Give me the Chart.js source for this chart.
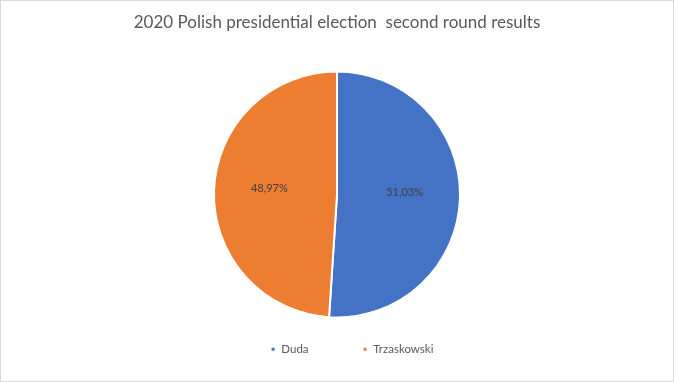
<!DOCTYPE html>
<html><head><meta charset="utf-8">
<script src="https://cdn.jsdelivr.net/npm/chart.js@4/dist/chart.umd.min.js"></script>
<style>html,body{margin:0;padding:0;background:#fff}#wrap{width:674px;height:382px;position:relative}</style>
</head><body><div id="wrap"><canvas id="c" width="674" height="382"></canvas></div>
<script>
const title = "2020 Polish presidential election  second round results";
const categories = ["Duda", "Trzaskowski"];
const values = [51.03, 48.97];
const colors = ["#4472C4", "#ED7D31"];

const fmt = v => v.toFixed(2).replace(".", ",") + "%";

const borderPlugin = {
  id: "frame",
  afterLayout(chart) {
    const lg = chart.legend;
    if (lg) { lg.top -= 17; lg.bottom -= 17; lg.left += 15; lg.right += 15; }
  },
  afterDraw(chart) {
    const ctx = chart.ctx;
    ctx.save();
    ctx.strokeStyle = "#d9d9d9";
    ctx.lineWidth = 1;
    ctx.strokeRect(0.5, 0.5, chart.width - 1, chart.height - 1);
    ctx.restore();
  }
};
const labelPlugin = {
  id: "slabels",
  afterDatasetsDraw(chart) {
    const ctx = chart.ctx;
    const meta = chart.getDatasetMeta(0);
    ctx.save();
    ctx.font = "11px Lato";
    ctx.fillStyle = "#404040";
    ctx.textAlign = "center";
    ctx.textBaseline = "middle";
    meta.data.forEach((arc, i) => {
      const mid = (arc.startAngle + arc.endAngle) / 2;
      const r = arc.outerRadius * 0.55;
      ctx.fillText(fmt(values[i]), arc.x + Math.cos(mid) * r, arc.y + Math.sin(mid) * r - 4);
    });
    ctx.restore();
  }
};

new Chart(document.getElementById("c"), {
  type: "pie",
  data: {
    labels: categories,
    datasets: [{ data: values, backgroundColor: colors, borderColor: "#fff", borderWidth: 2, radius: 123 }]
  },
  options: {
    responsive: false,
    animation: false,
    layout: { padding: 0 },
    plugins: {
      title: { display: true, text: title, color: "#595959", font: { family: "Lato", size: 17, weight: "normal" }, padding: { top: 12, bottom: 50 } },
      legend: { position: "bottom", labels: { boxWidth: 5, boxHeight: 5, color: "#595959", font: { family: "Lato", size: 11.5 }, padding: 54 } },
      tooltip: { enabled: false }
    }
  },
  plugins: [borderPlugin, labelPlugin]
});
</script></body></html>
